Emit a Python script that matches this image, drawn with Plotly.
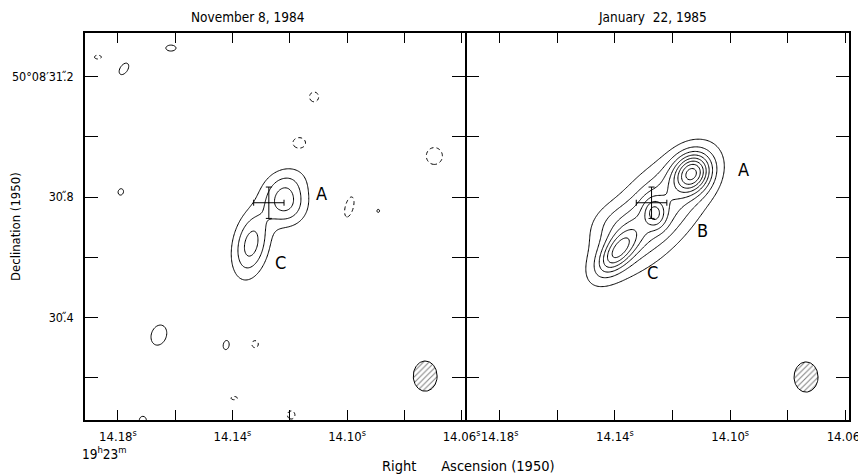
import numpy as np
import plotly.graph_objects as go

# ---------------- data ----------------
# axis ticks (RA seconds of 19h23m, Dec arcsec of 50d08m)
ra_tickvals = [14.18, 14.16, 14.14, 14.12, 14.10, 14.08, 14.06]
ra_ticktext = ["14.18<sup>s</sup>", "", "14.14<sup>s</sup>", "", "14.10<sup>s</sup>", "", "14.06<sup>s</sup>"]
dec_tickvals = [30.2, 30.4, 30.6, 30.8, 31.0, 31.2]
dec_ticktext = ["", "30.\u030B4", "", "30.\u030B8", "", "50°08′31.\u030B2"]
ra_range = [14.1915, 14.0588]
dec_range = [30.0604, 31.344]

titles = ["November 8, 1984", "January\u00a0\u00a022, 1985"]

# source components, panel 1 (Nov 8 1984): RA [s], Dec [arcsec], peak [contour units], sigma major/minor [arcsec], PA [deg]
nov_ra   = [14.1216, 14.1210, 14.1335]
nov_dec  = [30.777, 30.849, 30.644]
nov_amp  = [3.1, 1.35, 3.45]
nov_smaj = [0.050, 0.055, 0.077]
nov_smin = [0.050, 0.042, 0.040]
nov_pa   = [0, -70, -12]

# weak noise features, panel 1 (negative peaks give dashed contours)
noise_ra   = [14.1870, 14.1779, 14.1615, 14.1115, 14.1167, 14.0695, 14.1790, 14.0992, 14.0891,
              14.1657, 14.1422, 14.1321, 14.1394, 14.1713, 14.1195]
noise_dec  = [31.264, 31.225, 31.294, 31.132, 30.979, 30.936, 30.817, 30.767, 30.754,
              30.342, 30.309, 30.312, 30.133, 30.060, 30.077]
noise_amp  = [-1.5, 1.5, 1.5, -1.5, -1.5, -1.5, 1.5, -1.5, 1.5,
              1.5, 1.5, -1.5, -1.5, 1.5, -1.5]
noise_smaj = [0.013, 0.024, 0.019, 0.018, 0.024, 0.031, 0.012, 0.038, 0.006,
              0.038, 0.017, 0.013, 0.012, 0.014, 0.015]
noise_smin = [0.007, 0.014, 0.011, 0.017, 0.020, 0.030, 0.010, 0.015, 0.005,
              0.028, 0.011, 0.012, 0.006, 0.013, 0.014]
noise_pa   = [90, -35, 90, 0, 90, 0, -20, -15, 0,
              -20, -10, 0, 90, 0, 0]

# source components, panel 2 (Jan 22 1985): A, B, C, extended jet, NW shoulder
jan_ra   = [14.1132, 14.1262, 14.1391, 14.1262, 14.1415]
jan_dec  = [30.880, 30.747, 30.618, 30.747, 30.712]
jan_amp  = [6.3, 2.5, 4.3, 4.0, 0.85]
jan_smaj = [0.047, 0.033, 0.060, 0.167, 0.055]
jan_smin = [0.040, 0.024, 0.030, 0.075, 0.045]
jan_pa   = [-35, 10, -40, -43, -60]

contour_levels = [1, 2, 3, 4, 5, 6, 7, 8, 9]

# reference position with errors
cross_ra = [14.1273]
cross_dec = [30.781]
cross_err_ra = [0.0053]
cross_err_dec = [0.052]

# restoring beam (full axes, arcsec) and where it is drawn
beam_major = 0.100
beam_minor = 0.080
beam_ra = [14.0727, 14.0737]
beam_dec = [30.206, 30.203]

# component labels
label_text = [["A", "C"], ["A", "B", "C"]]
label_ra = [[14.1090, 14.1234], [14.0954, 14.1097, 14.1269]]
label_dec = [[30.813, 30.584], [30.890, 30.690, 30.548]]

# ---------------- model the brightness maps ----------------
COS_DEC = np.cos(np.deg2rad(50 + 8 / 60 + 30.8 / 3600))
grid_ra = np.linspace(14.195, 14.055, 320)
grid_dec = np.linspace(30.05, 31.36, 320)


def brightness(ras, decs, amps, smajs, smins, pas):
    RA, DEC = np.meshgrid(grid_ra, grid_dec)
    z = np.zeros_like(RA)
    for r0, d0, a, sj, sn, pa in zip(ras, decs, amps, smajs, smins, pas):
        e = (RA - r0) * 15 * COS_DEC
        n = DEC - d0
        p = np.deg2rad(pa)
        u = e * np.sin(p) + n * np.cos(p)
        v = e * np.cos(p) - n * np.sin(p)
        z += a * np.exp(-0.5 * ((u / sj) ** 2 + (v / sn) ** 2))
    return np.round(z, 3)


z_nov = brightness(nov_ra + noise_ra, nov_dec + noise_dec, nov_amp + noise_amp,
                   nov_smaj + noise_smaj, nov_smin + noise_smin, nov_pa + noise_pa)
z_jan = brightness(jan_ra, jan_dec, jan_amp, jan_smaj, jan_smin, jan_pa)

FONT = "DejaVu Sans Condensed, Liberation Sans Narrow, DejaVu Sans, sans-serif"
black = [[0, "black"], [1, "black"]]

fig = go.Figure()


def add_panel(z, xa, ya, nmax):
    fig.add_trace(go.Contour(
        x=grid_ra, y=grid_dec, z=z, xaxis=xa, yaxis=ya,
        contours=dict(start=contour_levels[0], end=contour_levels[nmax - 1], size=1, coloring="lines"),
        colorscale=black, showscale=False, line=dict(width=1, smoothing=1), hoverinfo="skip"))
    fig.add_trace(go.Contour(
        x=grid_ra, y=grid_dec, z=-z, xaxis=xa, yaxis=ya,
        contours=dict(start=1, end=1, size=1, coloring="lines"),
        colorscale=black, showscale=False, line=dict(width=1, dash="4px,3px", smoothing=1), hoverinfo="skip"))


add_panel(z_nov, "x", "y", 3)
add_panel(z_jan, "x2", "y2", 9)

# beams (hatched ellipses) and reference cross
t = np.linspace(0, 2 * np.pi, 80)
for i, (xa, ya) in enumerate([("x", "y"), ("x2", "y2")]):
    e = 0.5 * beam_minor * np.cos(t)
    n = 0.5 * beam_major * np.sin(t)
    fig.add_trace(go.Scatter(
        x=beam_ra[i] - e / (15 * COS_DEC), y=beam_dec[i] + n, xaxis=xa, yaxis=ya,
        mode="lines", fill="toself", line=dict(color="black", width=1),
        fillcolor="white",
        fillpattern=dict(shape="/", fgcolor="black", bgcolor="white", size=4, solidity=0.25),
        hoverinfo="skip", showlegend=False))
    fig.add_trace(go.Scatter(
        x=cross_ra, y=cross_dec, xaxis=xa, yaxis=ya, mode="markers",
        marker=dict(size=1, color="black"),
        error_x=dict(type="data", array=cross_err_ra, color="black", thickness=1, width=3),
        error_y=dict(type="data", array=cross_err_dec, color="black", thickness=1, width=3),
        hoverinfo="skip", showlegend=False))

# ---------------- layout (page pixels: the page body adds an 8 px offset) ----------------
OFF = 8
W, H = 866, 475
PX0, PX1, PY0, PY1 = 85, 849, 33, 420          # plot area on the page
L, R, T, B = PX0 - OFF, W - (PX1 - OFF), PY0 - OFF, H - (PY1 - OFF)
pw, ph = PX1 - PX0, PY1 - PY0
LW = 1.5
split = (465 - PX0) / pw
split2 = split + LW / pw


def px(x):
    return (x - PX0) / pw


def py(y):
    return (PY1 - y) / ph


annotations = []
for i, (xa, ya) in enumerate([("x", "y"), ("x2", "y2")]):
    for txt, xr, yr in zip(label_text[i], label_ra[i], label_dec[i]):
        annotations.append(dict(text=txt, x=xr, y=yr, xref=xa, yref=ya, showarrow=False,
                                xanchor="center", yanchor="middle",
                                font=dict(size=18, family=FONT, color="black")))


def note(text, x, y, size, **kw):
    d = dict(text=text, x=px(x), y=py(y), xref="paper", yref="paper", showarrow=False,
             xanchor="center", yanchor="middle", font=dict(size=size, family=FONT, color="black"))
    d.update(kw)
    annotations.append(d)


note(titles[0], 248, 17, 13.5)
note(titles[1], 652, 17, 13.5)
note("Right" + "\u00a0" * 6 + "Ascension (1950)", 468, 466, 14.5)
note("19<sup>h</sup>23<sup>m</sup>", 104, 453, 13.5)
note("Declination (1950)", 16, 227, 13, textangle=-90)

xcommon = dict(range=ra_range, tickvals=ra_tickvals, ticktext=ra_ticktext, ticks="inside", ticklen=10,
               tickwidth=1, tickcolor="black", showline=True, linecolor="black", linewidth=LW,
               mirror="ticks", showgrid=False, zeroline=False, automargin=False,
               ticklabelstandoff=4, tickfont=dict(size=13, family=FONT, color="black"))
ycommon = dict(range=dec_range, tickvals=dec_tickvals, ticks="inside", ticklen=13,
               tickwidth=1, tickcolor="black", showline=True, linecolor="black", linewidth=LW,
               mirror="ticks", showgrid=False, zeroline=False, automargin=False,
               ticklabelstandoff=7, tickfont=dict(size=12.5, family=FONT, color="black"))

fig.update_layout(
    width=W, height=H, margin=dict(l=L, r=R, t=T, b=B),
    paper_bgcolor="white", plot_bgcolor="white", showlegend=False,
    xaxis=dict(domain=[0, split], **xcommon),
    xaxis2=dict(domain=[split2, 1], anchor="y2", **xcommon),
    yaxis=dict(domain=[0, 1], anchor="x", ticktext=dec_ticktext, **ycommon),
    yaxis2=dict(domain=[0, 1], anchor="x2", showticklabels=False, **ycommon),
    annotations=annotations,
)

fig.write_html("out.html")
